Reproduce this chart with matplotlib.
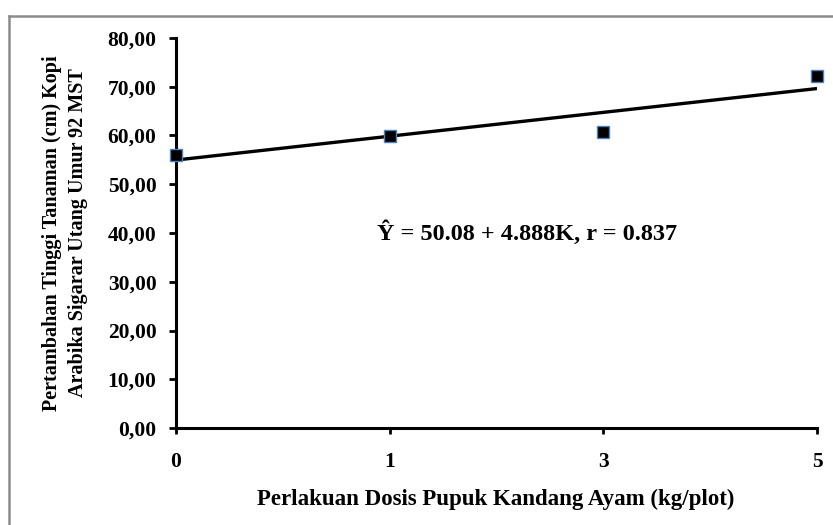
import numpy as np
import matplotlib
matplotlib.use("Agg")
import matplotlib.pyplot as plt
from matplotlib.lines import Line2D

# dose treatments (kg/plot) and mean height increase (cm)
dose_labels = ["0", "1", "3", "5"]
height_gain = [56.0, 59.8, 60.8, 72.2]

# linear trend fitted on treatment order K = 1..4
intercept = 50.08
slope = 4.888
r_value = 0.837

y_ticks = [0, 10, 20, 30, 40, 50, 60, 70, 80]

plt.rcParams["font.family"] = ["Liberation Serif", "DejaVu Serif"]
plt.rcParams["font.weight"] = "bold"

fig = plt.figure(figsize=(8.33, 5.25), dpi=100)
ax = fig.add_axes([176 / 833, 1 - 428 / 525, 641 / 833, 390 / 525])

pos = np.arange(len(dose_labels))
k = pos + 1
trend = intercept + slope * k

ax.plot(pos, trend, color="black", lw=2.4, solid_capstyle="butt", zorder=3)
ax.plot(pos, height_gain, ls="none", marker="s", ms=8, mfc="black",
        mec="#4f81bd", mew=1.0, clip_on=False, zorder=4)

ax.set_xlim(0, len(dose_labels) - 1)
ax.set_ylim(0, 80)
ax.set_xticks(pos)
ax.set_xticklabels(dose_labels)
ax.set_yticks(y_ticks)
ax.set_yticklabels([f"{v:.2f}".replace(".", ",") for v in y_ticks])

for s in ["top", "right"]:
    ax.spines[s].set_visible(False)
for s in ["left", "bottom"]:
    ax.spines[s].set_linewidth(2.2)

ax.tick_params(axis="y", direction="out", length=5, width=2, labelsize=15.5, pad=9)
ax.tick_params(axis="x", direction="out", length=4, width=2, labelsize=15.5, pad=13)
for lbl in ax.get_xticklabels() + ax.get_yticklabels():
    lbl.set_fontweight("bold")

ax.set_xlabel("Perlakuan Dosis Pupuk Kandang Ayam (kg/plot)",
              fontsize=16.5, fontweight="bold")
ax.xaxis.set_label_coords(0.498, -0.155)
ax.set_ylabel("Pertambahan Tinggi Tanaman (cm) Kopi\nArabika Sigarar Utang Umur 92 MST",
              fontsize=14.5, fontweight="bold", linespacing=1.4)
ax.yaxis.set_label_coords(-0.137, 0.5)

ax.text(0.548, 0.5, f"Ŷ = {intercept:.2f} + {slope:.3f}K, r = {r_value:.3f}",
        transform=ax.transAxes, ha="center", va="center",
        fontsize=17.5, fontweight="bold")

# outer chart-area border (top and left edges)
fx = 9 / 833
fy = 1 - 16 / 525
fig.add_artist(Line2D([fx, 1], [fy, fy], transform=fig.transFigure,
                      color="#8c8c8c", lw=1.8))
fig.add_artist(Line2D([fx, fx], [0, fy], transform=fig.transFigure,
                      color="#8c8c8c", lw=1.8))

fig.savefig("out.png", dpi=100, facecolor="white")
